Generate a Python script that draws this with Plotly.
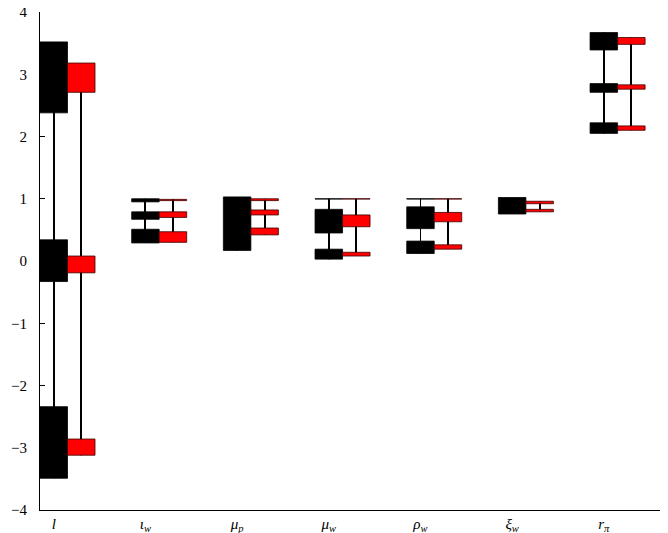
"""
plot.py

Interval chart: black and red posterior regions per parameter.
"""

from __future__ import annotations

import plotly.graph_objects as go

# =============================================================================
# Data
# =============================================================================

categories = [
    "<i>l</i>",
    "<i>ι</i><sub><i>w</i></sub>",
    "<i>μ</i><sub><i>p</i></sub>",
    "<i>μ</i><sub><i>w</i></sub>",
    "<i>ρ</i><sub><i>w</i></sub>",
    "<i>ξ</i><sub><i>w</i></sub>",
    "<i>r</i><sub><i>π</i></sub>",
]

black_cat = [0, 0, 0, 1, 1, 1, 2, 3, 3, 3, 4, 4, 4, 5, 6, 6, 6]
black_low = [2.38, -0.33, -3.49, 0.95, 0.67, 0.29, 0.17, 0.995, 0.45, 0.03,
             0.995, 0.52, 0.12, 0.755, 3.39, 2.71, 2.05]
black_high = [3.52, 0.34, -2.34, 1.0, 0.79, 0.51, 1.03, 1.0, 0.83, 0.19,
              1.0, 0.87, 0.32, 1.02, 3.67, 2.85, 2.22]

red_cat = [0, 0, 0, 1, 1, 1, 2, 2, 2, 3, 3, 3, 4, 4, 4, 5, 5, 6, 6, 6]
red_low = [2.71, -0.19, -3.12, 0.97, 0.70, 0.30, 0.97, 0.74, 0.42, 0.995,
           0.55, 0.08, 0.995, 0.63, 0.19, 0.92, 0.79, 3.48, 2.76, 2.10]
red_high = [3.18, 0.08, -2.86, 0.99, 0.79, 0.47, 1.0, 0.82, 0.53, 1.0,
            0.74, 0.14, 1.0, 0.78, 0.26, 0.96, 0.83, 3.59, 2.83, 2.17]

y_ticks = [-4, -3, -2, -1, 0, 1, 2, 3, 4]

BOX_W = 0.3
RED_SHIFT = 0.3


# =============================================================================
# Helpers
# =============================================================================

def whisker_range(cats, low, high):
    out = {}
    for c, lo, hi in zip(cats, low, high):
        a, b = out.get(c, (lo, hi))
        out[c] = (min(a, lo), max(b, hi))
    keys = sorted(out)
    return keys, [out[k][0] for k in keys], [out[k][1] for k in keys]


def whisker_trace(cats, low, high, shift):
    keys, lo, hi = whisker_range(cats, low, high)
    return go.Bar(
        x=[k + shift for k in keys],
        base=lo,
        y=[h - l for l, h in zip(lo, hi)],
        width=0.01,
        marker=dict(color="black", line=dict(width=0)),
        hoverinfo="skip",
        showlegend=False,
    )


def box_trace(cats, low, high, shift, color, edge):
    return go.Bar(
        x=[c + shift for c in cats],
        base=low,
        y=[h - l for l, h in zip(low, high)],
        width=BOX_W,
        marker=dict(color=color, line=dict(color=edge, width=0.8)),
        showlegend=False,
    )


# =============================================================================
# Figure
# =============================================================================

fig = go.Figure()

fig.add_trace(whisker_trace(black_cat, black_low, black_high, 0))
fig.add_trace(whisker_trace(red_cat, red_low, red_high, RED_SHIFT))
fig.add_trace(box_trace(black_cat, black_low, black_high, 0, "black", "black"))
fig.add_trace(box_trace(red_cat, red_low, red_high, RED_SHIFT, "#ff0000", "#3a0000"))

# the html page adds an 8px body margin, so the figure is 8px smaller
fig.update_layout(
    width=660,
    height=525,
    margin=dict(l=32, r=0, t=4, b=23),
    barmode="overlay",
    plot_bgcolor="white",
    paper_bgcolor="white",
    font=dict(family="Liberation Serif", size=15, color="black"),
)

fig.update_xaxes(
    range=[-0.15, 6.70],
    tickvals=list(range(len(categories))),
    ticktext=categories,
    ticks="",
    ticklabelstandoff=0,
    automargin=False,
    showgrid=False,
    zeroline=False,
    showline=True,
    linecolor="black",
    linewidth=1,
    tickfont=dict(size=15),
)

fig.update_yaxes(
    range=[-4, 4],
    tickvals=y_ticks,
    ticktext=[str(v).replace("-", "−") for v in y_ticks],
    ticks="inside",
    ticklen=5,
    tickcolor="black",
    ticklabelstandoff=9,
    ticklabeloverflow="allow",
    automargin=False,
    showgrid=False,
    zeroline=False,
    showline=True,
    linecolor="black",
    linewidth=1,
)

fig.write_html("out.html")
